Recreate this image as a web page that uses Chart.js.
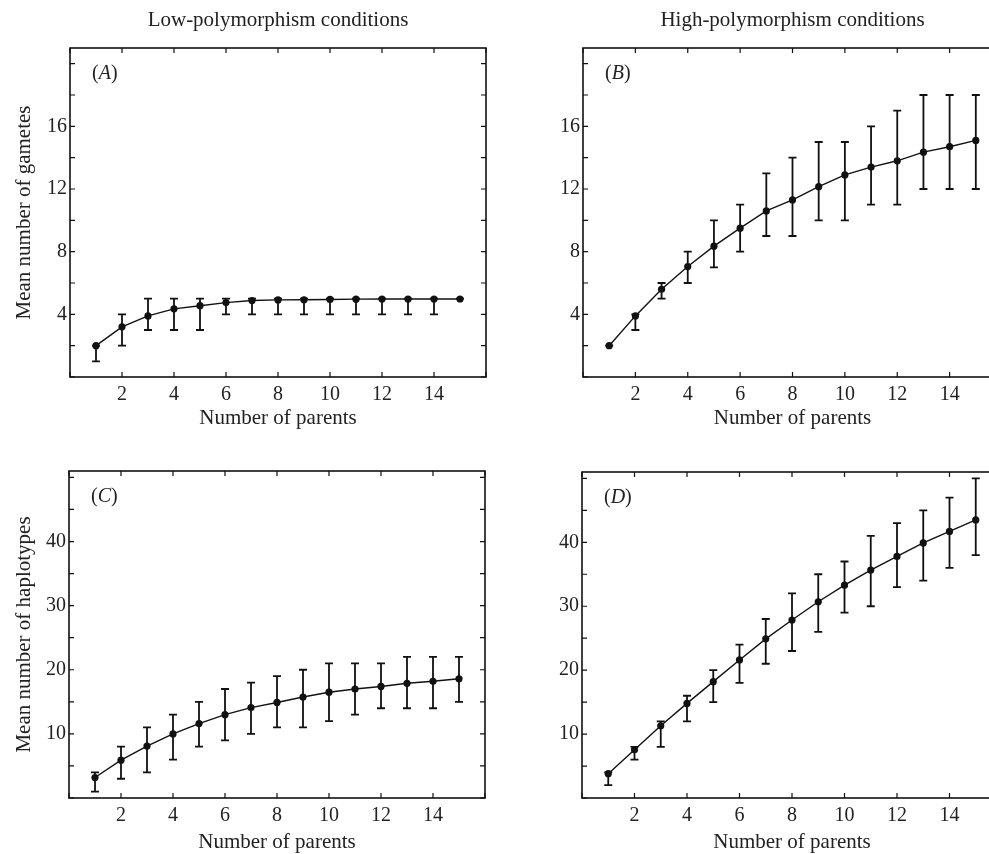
<!DOCTYPE html>
<html>
<head>
<meta charset="utf-8">
<script src="https://cdn.jsdelivr.net/npm/chart.js@4.4.1/dist/chart.umd.min.js"></script>
<style>
  html, body { margin: 0; padding: 0; background: #fff; overflow: hidden; }
  .panel { position: absolute; }
</style>
</head>
<body>
<div class="panel" style="left:0;top:0;width:500px;height:431px"><canvas id="chart-a"></canvas></div>
<div class="panel" style="left:490px;top:0;width:530px;height:431px"><canvas id="chart-b"></canvas></div>
<div class="panel" style="left:0;top:420px;width:500px;height:435px"><canvas id="chart-c"></canvas></div>
<div class="panel" style="left:490px;top:420px;width:530px;height:435px"><canvas id="chart-d"></canvas></div>
<script>
const parents = [1, 2, 3, 4, 5, 6, 7, 8, 9, 10, 11, 12, 13, 14, 15];

// (A) gametes, low polymorphism
const lowGametes = [2.0, 3.2, 3.9, 4.35, 4.55, 4.75, 4.88, 4.92, 4.93, 4.95, 4.97, 4.98, 4.98, 4.98, 4.98];
const lowGametesMin = [1, 2, 3, 3, 3, 4, 4, 4, 4, 4, 4, 4, 4, 4, 5];
const lowGametesMax = [2, 4, 5, 5, 5, 5, 5, 5, 5, 5, 5, 5, 5, 5, 5];

// (B) gametes, high polymorphism
const highGametes = [2.0, 3.9, 5.6, 7.05, 8.35, 9.5, 10.6, 11.3, 12.15, 12.9, 13.4, 13.8, 14.35, 14.7, 15.1];
const highGametesMin = [2, 3, 5, 6, 7, 8, 9, 9, 10, 10, 11, 11, 12, 12, 12];
const highGametesMax = [2, 4, 6, 8, 10, 11, 13, 14, 15, 15, 16, 17, 18, 18, 18];

// (C) haplotypes, low polymorphism
const lowHaplotypes = [3.2, 5.9, 8.1, 10.0, 11.6, 13.0, 14.1, 14.9, 15.75, 16.5, 17.0, 17.4, 17.9, 18.2, 18.6];
const lowHaplotypesMin = [1, 3, 4, 6, 8, 9, 10, 11, 11, 12, 13, 14, 14, 14, 15];
const lowHaplotypesMax = [4, 8, 11, 13, 15, 17, 18, 19, 20, 21, 21, 21, 22, 22, 22];

// (D) haplotypes, high polymorphism
const highHaplotypes = [3.8, 7.55, 11.3, 14.8, 18.2, 21.6, 24.9, 27.85, 30.7, 33.3, 35.65, 37.8, 39.9, 41.7, 43.5];
const highHaplotypesMin = [2, 6, 8, 12, 15, 18, 21, 23, 26, 29, 30, 33, 34, 36, 38];
const highHaplotypesMax = [4, 8, 12, 16, 20, 24, 28, 32, 35, 37, 41, 43, 45, 47, 50];

const serif = "'Liberation Serif', 'DejaVu Serif', serif";
const ink = '#111';
const textColor = '#222';

// error bars with caps, drawn under the points
const errorBars = {
  id: 'errorBars',
  beforeDatasetsDraw(chart) {
    const ds = chart.data.datasets[0];
    const x = chart.scales.x, y = chart.scales.y;
    const ctx = chart.ctx;
    ctx.save();
    ctx.strokeStyle = ink;
    ctx.lineWidth = 1.8;
    ds.data.forEach((p, i) => {
      const px = x.getPixelForValue(p.x);
      const lo = y.getPixelForValue(ds.lower[i]);
      const hi = y.getPixelForValue(ds.upper[i]);
      ctx.beginPath();
      ctx.moveTo(px, lo); ctx.lineTo(px, hi);
      ctx.moveTo(px - 4, lo); ctx.lineTo(px + 4, lo);
      ctx.moveTo(px - 4, hi); ctx.lineTo(px + 4, hi);
      ctx.stroke();
    });
    ctx.restore();
  }
};

// box round the plot with inward tick marks on all sides
const frame = {
  id: 'frame',
  afterDraw(chart) {
    const { left, right, top, bottom } = chart.chartArea;
    const ctx = chart.ctx;
    ctx.save();
    ctx.strokeStyle = ink;
    ctx.lineWidth = 1.6;
    ctx.strokeRect(left, top, right - left, bottom - top);
    ctx.lineWidth = 1.2;
    ctx.beginPath();
    chart.scales.x.ticks.forEach(t => {
      const px = chart.scales.x.getPixelForValue(t.value);
      ctx.moveTo(px, bottom); ctx.lineTo(px, bottom - 5);
      ctx.moveTo(px, top); ctx.lineTo(px, top + 5);
    });
    chart.scales.y.ticks.forEach(t => {
      const py = chart.scales.y.getPixelForValue(t.value);
      ctx.moveTo(left, py); ctx.lineTo(left + 5, py);
      ctx.moveTo(right, py); ctx.lineTo(right - 5, py);
    });
    ctx.stroke();
    ctx.restore();
  }
};

// "(A)" style label inside the plot, plus the column header above top panels
const panelText = {
  id: 'panelText',
  afterDraw(chart, args, opts) {
    const { left, right, top } = chart.chartArea;
    const ctx = chart.ctx;
    ctx.save();
    ctx.fillStyle = textColor;
    ctx.textBaseline = 'middle';
    ctx.textAlign = 'left';
    let x = left + 22;
    const y = top + 26;
    ctx.font = '20px ' + serif;
    ctx.fillText('(', x, y);
    x += ctx.measureText('(').width;
    ctx.font = 'italic 20px ' + serif;
    ctx.fillText(opts.letter, x, y);
    x += ctx.measureText(opts.letter).width;
    ctx.font = '20px ' + serif;
    ctx.fillText(')', x, y);
    if (opts.header) {
      ctx.textAlign = 'center';
      ctx.font = '21px ' + serif;
      ctx.fillText(opts.header, (left + right) / 2, 20);
    }
    ctx.restore();
  }
};

function makePanel(id, cfg) {
  const points = parents.map((p, i) => ({ x: p, y: cfg.means[i] }));
  return new Chart(document.getElementById(id), {
    type: 'line',
    data: {
      datasets: [{
        data: points,
        lower: cfg.lower,
        upper: cfg.upper,
        borderColor: ink,
        borderWidth: 1.4,
        pointRadius: 3.6,
        pointBackgroundColor: ink,
        pointBorderWidth: 0,
        tension: 0
      }]
    },
    options: {
      responsive: true,
      maintainAspectRatio: false,
      animation: false,
      layout: { padding: { top: cfg.padTop, right: cfg.padRight, left: 0, bottom: 0 } },
      plugins: {
        legend: { display: false },
        tooltip: { enabled: false },
        panelText: { letter: cfg.letter, header: cfg.header }
      },
      scales: {
        x: {
          type: 'linear',
          min: 0,
          max: 16,
          afterFit: s => { s.height = cfg.xHeight; },
          grid: { display: false, drawTicks: false },
          border: { display: false },
          ticks: {
            stepSize: 2,
            autoSkip: false,
            maxRotation: 0,
            padding: 6,
            color: textColor,
            font: { family: serif, size: 20 },
            callback: v => (v > 0 && v < 16 ? v : '')
          },
          title: {
            display: true,
            text: 'Number of parents',
            color: textColor,
            font: { family: serif, size: 21 },
            padding: { top: 2, bottom: 0 }
          }
        },
        y: {
          min: 0,
          max: cfg.yMax,
          afterFit: s => { s.width = cfg.yWidth; },
          grid: { display: false, drawTicks: false },
          border: { display: false },
          ticks: {
            stepSize: cfg.step,
            includeBounds: false,
            padding: 3,
            color: textColor,
            font: { family: serif, size: 20 },
            callback: v => (v > 0 && v <= cfg.labelMax && v % cfg.labelEvery === 0 ? v : '')
          },
          title: {
            display: !!cfg.yTitle,
            text: cfg.yTitle || '',
            color: textColor,
            font: { family: serif, size: 21 },
            padding: { top: 12, bottom: 0 }
          }
        }
      }
    },
    plugins: [errorBars, frame, panelText]
  });
}

makePanel('chart-a', {
  means: lowGametes, lower: lowGametesMin, upper: lowGametesMax,
  letter: 'A', header: 'Low-polymorphism conditions', yTitle: 'Mean number of gametes',
  yMax: 21, step: 2, labelEvery: 4, labelMax: 16, yWidth: 70, xHeight: 54, padTop: 48, padRight: 14
});
makePanel('chart-b', {
  means: highGametes, lower: highGametesMin, upper: highGametesMax,
  letter: 'B', header: 'High-polymorphism conditions',
  yMax: 21, step: 2, labelEvery: 4, labelMax: 16, yWidth: 93, xHeight: 54, padTop: 48, padRight: 18
});
makePanel('chart-c', {
  means: lowHaplotypes, lower: lowHaplotypesMin, upper: lowHaplotypesMax,
  letter: 'C', yTitle: 'Mean number of haplotypes',
  yMax: 51, step: 5, labelEvery: 10, labelMax: 40, yWidth: 69, xHeight: 57, padTop: 51, padRight: 15
});
makePanel('chart-d', {
  means: highHaplotypes, lower: highHaplotypesMin, upper: highHaplotypesMax,
  letter: 'D',
  yMax: 51, step: 5, labelEvery: 10, labelMax: 40, yWidth: 92, xHeight: 57, padTop: 52, padRight: 18
});
</script>
</body>
</html>
